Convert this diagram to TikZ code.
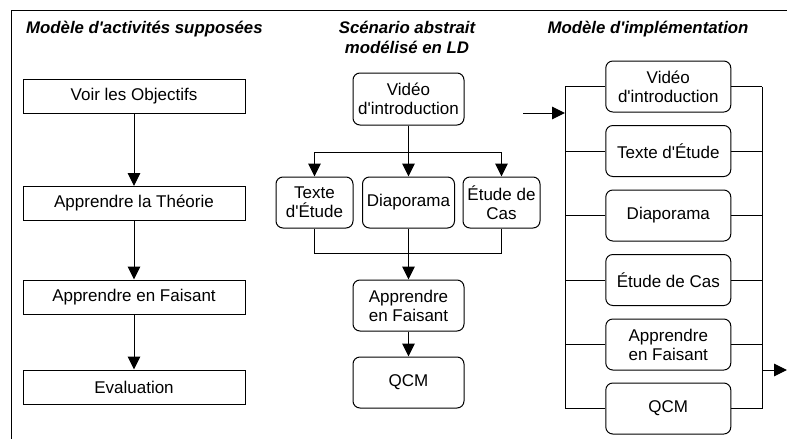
\documentclass[tikz,border=0pt]{standalone}
\usepackage{fontspec}
\setmainfont{Liberation Sans}[Ligatures=TeXOff]
\usetikzlibrary{arrows.meta}
\begin{document}
\begin{tikzpicture}[x=1pt,y=-1pt,
  every node/.style={font=\fontsize{17}{19}\selectfont, inner sep=0pt, align=center},
  sqbox/.style={draw, line width=1pt, minimum width=222pt, minimum height=34pt},
  rbox/.style={draw, line width=1pt, rounded corners=7pt, minimum height=51pt},
  ttl/.style={font=\fontsize{16.8}{20}\selectfont\bfseries\itshape},
  arr/.style={line width=1pt, -{Triangle[length=13pt,width=12.5pt]}},
  ln/.style={line width=1pt}]
\useasboundingbox (0,0) rectangle (787,439);
% frame
\draw[ln] (11,439) -- (11,10.5) -- (787,10.5);
% titles
\node[ttl, anchor=west] (t1) at (26,29) {Modèle d'activités supposées};
\node[ttl] (t2) at (407,37) {Scénario abstrait\\modélisé en LD};
\node[ttl] (t3) at (648,29) {Modèle d'implémentation};
% left column
\node[sqbox] (a1) at (134,96.5) {Voir les Objectifs};
\node[sqbox] (a2) at (134,203.5) {Apprendre la Théorie};
\node[sqbox] (a3) at (134,297) {Apprendre en Faisant};
\node[sqbox] (a4) at (134,387) {Evaluation};
\draw[arr] (a1) -- (a2);
\draw[arr] (a2) -- (a3);
\draw[arr] (a3) -- (a4);
% middle column
\node[rbox, minimum width=111pt, minimum height=52pt] (m1) at (408.5,99) {Vidéo\\d'introduction};
\node[rbox, minimum width=77pt] (m2) at (314.5,202.5) {Texte\\d'Étude};
\node[rbox, minimum width=92pt] (m3) at (408.5,202.5) {Diaporama};
\node[rbox, minimum width=77pt] (m4) at (501.5,202.5) {Étude de\\Cas};
\node[rbox, minimum width=111pt] (m5) at (408.5,305.5) {Apprendre\\en Faisant};
\node[rbox, minimum width=111pt] (m6) at (408.5,382.5) {QCM};
\coordinate (j1) at (408.5,152);
\coordinate (j2) at (408.5,253);
\draw[ln] (m1) -- (j1);
\draw[arr] (j1) -- (m3);
\draw[arr] (j1) -| (m2);
\draw[arr] (j1) -| (m4);
\draw[ln] (m2) |- (j2);
\draw[ln] (m4) |- (j2);
\draw[ln] (m3) -- (j2);
\draw[arr] (j2) -- (m5);
\draw[arr] (m5) -- (m6);
% right column
\node[rbox, minimum width=125pt] (r1) at (668.3,86.5) {Vidéo\\d'introduction};
\node[rbox, minimum width=125pt] (r2) at (668.3,151) {Texte d'Étude};
\node[rbox, minimum width=125pt] (r3) at (668.3,215.5) {Diaporama};
\node[rbox, minimum width=125pt] (r4) at (668.3,280) {Étude de Cas};
\node[rbox, minimum width=125pt] (r5) at (668.3,344.5) {Apprendre\\en Faisant};
\node[rbox, minimum width=125pt] (r6) at (668.3,408.5) {QCM};
\coordinate (Lx) at (565,0);
\coordinate (Rx) at (762,0);
\draw[ln] (r1.west -| Lx) -- (r6.west -| Lx);
\draw[ln] (r1.east -| Rx) -- (r6.east -| Rx);
\foreach \n in {r1,r2,r3,r4,r5,r6} {
  \draw[ln] (\n.west -| Lx) -- (\n.west);
  \draw[ln] (\n.east) -- (\n.east -| Rx);
}
\coordinate (in) at (523,113);
\coordinate (out) at (787,370);
\draw[arr] (in) -- (in -| Lx);
\draw[arr] (out -| Rx) -- (out);
\end{tikzpicture}
\end{document}
